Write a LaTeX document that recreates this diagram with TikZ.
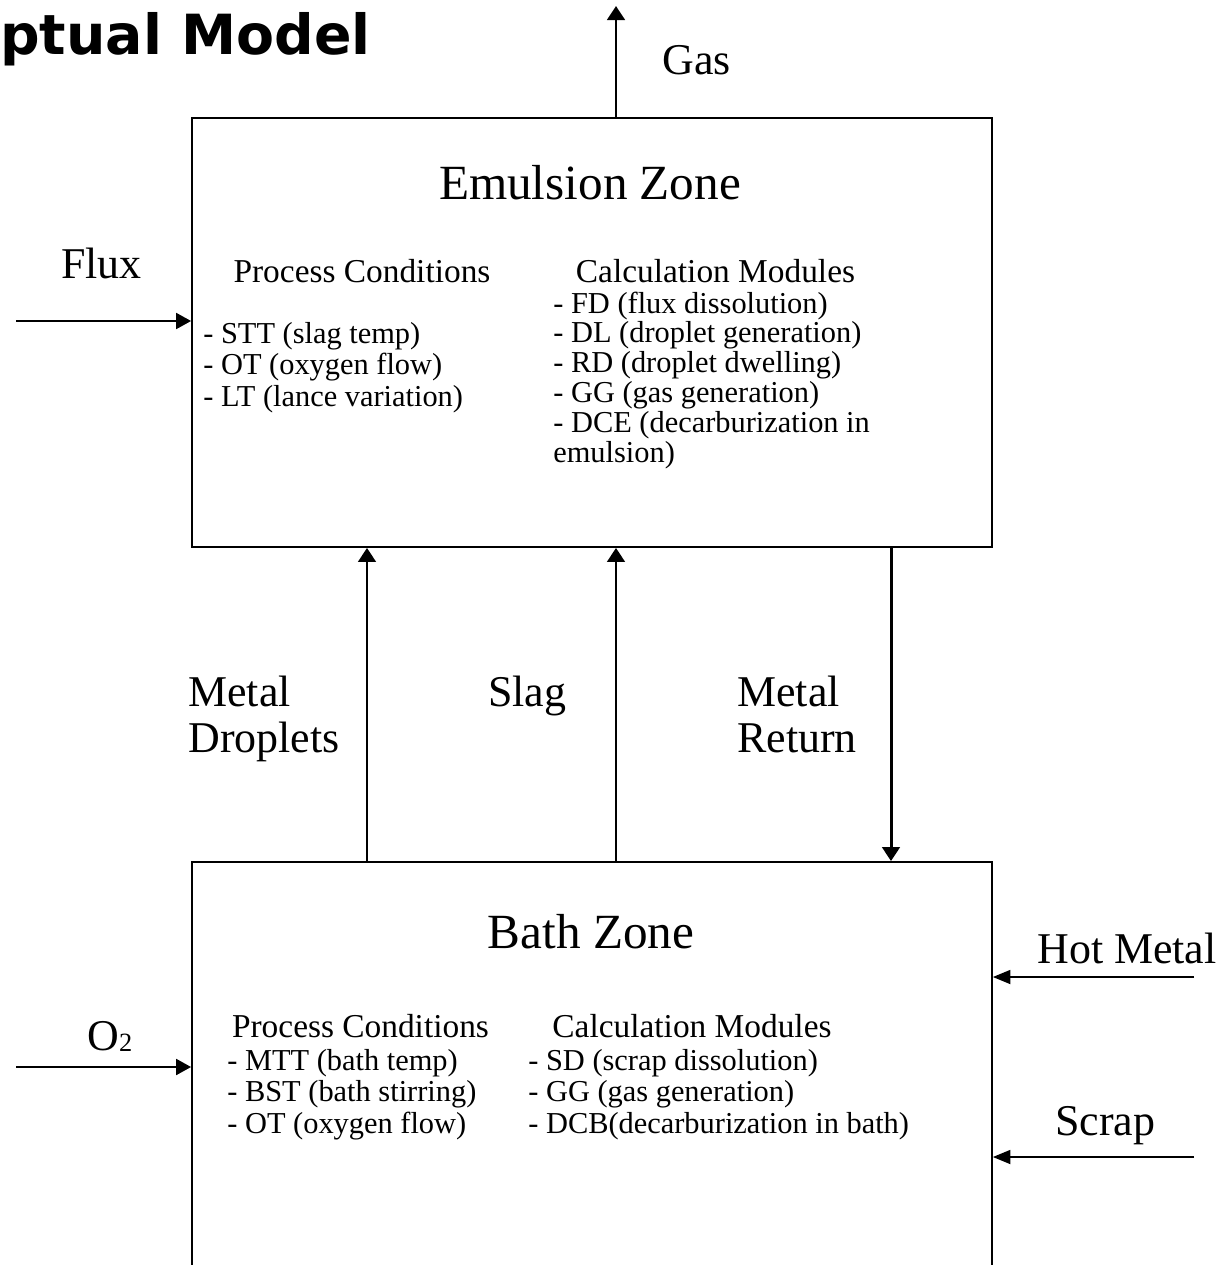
\documentclass[tikz,border=0pt]{standalone}
\usepackage{fontspec}
\setmainfont{Liberation Serif}
\newfontfamily\headfont{DejaVu Sans}
\usetikzlibrary{arrows.meta}
\begin{document}
\begin{tikzpicture}[x=0.02cm, y=-0.02cm,
    zonebox/.style={draw=black, line width=1.1pt, minimum width=16cm, minimum height=8.58cm, inner sep=0pt},
    zonetitle/.style={font=\fontsize{28}{30}\selectfont, anchor=base, inner sep=0pt},
    subhead/.style={font=\fontsize{19}{21}\selectfont, anchor=base, inner sep=0pt},
    item/.style={font=\fontsize{17.3}{18}\selectfont, anchor=base west, inner sep=0pt},
    flowlabel/.style={font=\fontsize{25}{26}\selectfont, anchor=base west, inner sep=0pt},
    flow/.style={-{Triangle[length=8pt,width=10pt]}, line width=1.7pt},
    feed/.style={-{Triangle[length=8.5pt,width=9pt]}, line width=1.3pt},
    charge/.style={-{Triangle[length=10pt,width=8pt]}, line width=0.9pt}]
    \useasboundingbox (0,0) rectangle (1220,1265);
    \node[font=\headfont\bfseries\fontsize{31.5}{33}\selectfont, anchor=base west, inner sep=0pt] (title) at (0,54) {ptual Model};
    \node[zonebox] (emul) at (592,332.5) {};
    \node[zonebox] (bath) at (592,1076.5) {};
    \node[zonetitle] (emultitle) at (590,199) {Emulsion Zone};
    \node[zonetitle] (bathtitle) at (591,948) {Bath Zone};
    \node[subhead] (emulproc) at (362,282) {Process Conditions};
    \node[subhead] (emulcalc) at (715.5,282) {Calculation Modules};
    \node[subhead] (bathproc) at (360.5,1037) {Process Conditions};
    \node[subhead] (bathcalc) at (692,1037) {Calculation Modules};
    \foreach \txt [count=\i] in {- STT (slag temp), - OT (oxygen flow), - LT (lance variation)}
        \node[item] (ep\i) at (203,{343+31.5*(\i-1)}) {\txt};
    \foreach \txt [count=\i] in {- FD (flux dissolution), - DL (droplet generation), - RD (droplet dwelling),
        - GG (gas generation), - DCE (decarburization in, emulsion)}
        \node[item] (ec\i) at (553,{313+29.9*(\i-1)}) {\txt};
    \foreach \txt [count=\i] in {- MTT (bath temp), - BST (bath stirring), - OT (oxygen flow)}
        \node[item] (bp\i) at (227,{1070+31.5*(\i-1)}) {\txt};
    \foreach \txt [count=\i] in {- SD (scrap dissolution), - GG (gas generation), - DCB(decarburization in bath)}
        \node[item] (bc\i) at (528,{1070+31.5*(\i-1)}) {\txt};
    \node[flowlabel] (gaslbl) at (662,74) {Gas};
    \node[flowlabel] (fluxlbl) at (61,278) {Flux};
    \node[flowlabel] (droplbl) at (188,706) {Metal};
    \node[flowlabel] (droplbl2) at (188,752) {Droplets};
    \node[flowlabel] (slaglbl) at (488,706) {Slag};
    \node[flowlabel] (retlbl) at (737,706) {Metal};
    \node[flowlabel] (retlbl2) at (737,752) {Return};
    \node[flowlabel] (o2lbl) at (87,1050) {O{\fontsize{15}{15}\selectfont\raisebox{-1pt}{2}}};
    \node[flowlabel] (hmlbl) at (1037,963) {Hot Metal};
    \node[flowlabel] (scraplbl) at (1055,1135) {Scrap};
    \coordinate (gastop) at (616,6);
    \coordinate (fluxsrc) at (16,321);
    \coordinate (o2src) at (16,1067);
    \coordinate (hmsrc) at (1194,977);
    \coordinate (scrapsrc) at (1194,1157);
    \coordinate (dropx) at (367,0);
    \coordinate (slagx) at (616,0);
    \coordinate (retx) at (891,0);
    \draw[flow] (emul.north -| gastop) -- (gastop);
    \draw[flow] (bath.north -| dropx) -- (emul.south -| dropx);
    \draw[flow] (bath.north -| slagx) -- (emul.south -| slagx);
    \draw[flow] (emul.south -| retx) -- (bath.north -| retx);
    \draw[feed] (fluxsrc) -- (fluxsrc -| emul.west);
    \draw[feed] (o2src) -- (o2src -| bath.west);
    \draw[charge] (hmsrc) -- (hmsrc -| bath.east);
    \draw[charge] (scrapsrc) -- (scrapsrc -| bath.east);
\end{tikzpicture}
\end{document}
